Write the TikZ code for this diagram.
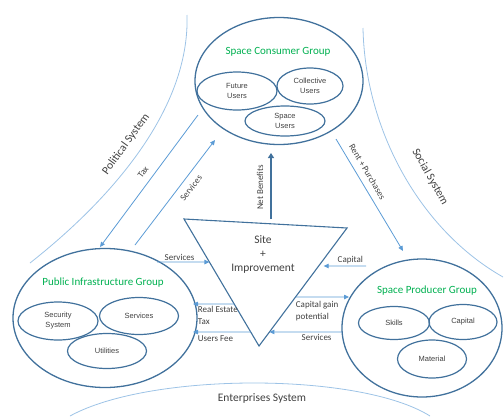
\documentclass[tikz,border=0pt]{standalone}
\usepackage{fontspec}
\setmainfont{Carlito}
\newfontfamily\cellfont{Liberation Sans}
\usetikzlibrary{arrows.meta,calc,shapes.geometric}
\definecolor{groupblue}{HTML}{41719C}
\definecolor{flowblue}{HTML}{5B9BD5}
\definecolor{sysblue}{HTML}{9DC3E6}
\definecolor{titlegreen}{HTML}{00B050}
\definecolor{labelgray}{HTML}{404040}
\begin{document}
\begin{tikzpicture}[x=1pt,y=-1pt]
    \tikzset {
        group/.style = {draw=groupblue, line width=1.3pt, ellipse, inner sep=0pt},
        cell/.style = {draw=groupblue, line width=1.2pt, ellipse, inner sep=0pt,
            align=center, font=\cellfont\fontsize{7.5}{10}\selectfont, text=labelgray},
        title/.style = {text=titlegreen, font=\fontsize{11}{13}\selectfont},
        flow/.style = {draw=flowblue, line width=0.8pt, -{Triangle[length=5pt,width=4.5pt]}},
        flowtext/.style = {text=labelgray, font=\fontsize{9}{12}\selectfont, inner sep=1.5pt},
        system/.style = {draw=sysblue, line width=0.8pt},
        systext/.style = {text=labelgray, font=\fontsize{11.5}{13}\selectfont}
    }
    \useasboundingbox (0,0) rectangle (504,416);

    \draw[system] (187,15) .. controls (190,110) and (110,200) .. (30,263);
    \draw[system] (363,28) .. controls (365,130) and (420,230) .. (503,277);
    \draw[system] (70,416) .. controls (150,372) and (360,372) .. (430,416);
    \node[systext, rotate=54] (polsys) at (126,144) {Political System};
    \node[systext, rotate=-61] (socsys) at (430,177) {Social System};
    \node[systext] (entsys) at (262,398) {Enterprises System};

    \node[group, minimum width=168pt, minimum height=127pt] (consumer) at (279,81) {};
    \node[title] (consumertitle) at (278,52) {Space Consumer Group};
    \node[cell, minimum width=80pt, minimum height=38pt] (future) at (237,91) {Future\\Users};
    \node[cell, minimum width=66pt, minimum height=36pt] (collective) at (310,86) {Collective\\Users};
    \node[cell, minimum width=80pt, minimum height=30pt] (spaceusers) at (285,121) {Space\\Users};

    \node[group, minimum width=184pt, minimum height=139pt] (public) at (105,318) {};
    \node[title] (publictitle) at (103,283) {Public Infrastructure Group};
    \node[cell, minimum width=80pt, minimum height=38pt] (security) at (58,321) {Security\\System};
    \node[cell, minimum width=79pt, minimum height=37pt] (pubservices) at (139,316) {Services};
    \node[cell, minimum width=79pt, minimum height=35pt] (utilities) at (107,351) {Utilities};

    \node[group, minimum width=160pt, minimum height=138pt] (producer) at (422,328) {};
    \node[title] (producertitle) at (427,291) {Space Producer Group};
    \node[cell, minimum width=71pt, minimum height=33pt] (skills) at (394,323) {Skills};
    \node[cell, minimum width=68pt, minimum height=35pt] (capital) at (463,322) {Capital};
    \node[cell, minimum width=69pt, minimum height=38pt] (material) at (432,359) {Material};

    \coordinate (tl) at (184,219);
    \coordinate (tr) at (347,228);
    \coordinate (bt) at (259,346);
    \draw[draw=groupblue, line width=1.1pt, line join=miter] (tl) -- (tr) -- (bt) -- cycle;
    \node[text=labelgray, align=center, font=\fontsize{11.5}{14}\selectfont] (site) at (263,254) {Site\\+\\Improvement};

    \coordinate (netfrom) at (271,219);
    \coordinate (netto) at (271,153);
    \draw[draw=groupblue, line width=2.6pt, -{Triangle[length=5pt,width=6pt]}] (netfrom) -- node[flowtext, sloped, above=5pt, pos=0.48] {Net Benefits} (netto);

    \coordinate (taxfrom) at (198,115);
    \coordinate (taxto) at (100,247);
    \draw[flow] (taxfrom) -- node[flowtext, sloped, above=5pt, pos=0.48] {Tax} (taxto);
    \coordinate (diagfrom) at (135,245);
    \coordinate (diagto) at (215,140);
    \draw[flow] (diagfrom) -- node[flowtext, sloped, below=5pt, pos=0.6] {Services} (diagto);
    \coordinate (rentfrom) at (336,139);
    \coordinate (rentto) at (403,251);
    \draw[flow] (rentfrom) -- node[flowtext, sloped, above=5pt, pos=0.34] {Rent + Purchases} (rentto);

    \coordinate (svcfrom) at (157,262);
    \coordinate (svcto) at ($(tl)!0.339!(bt)$);
    \draw[flow] (svcfrom) -- node[flowtext, above, pos=0.43] {Services} (svcto);
    \coordinate (capfrom) at (366,266);
    \coordinate (capto) at ($(tr)!0.322!(bt)+(5,0)$);
    \draw[flow] (capfrom) -- node[flowtext, above, pos=0.37] {Capital} (capto);
    \coordinate (gainfrom) at ($(tr)!0.585!(bt)$);
    \coordinate (gainto) at (349,297);
    \draw[flow] (gainfrom) -- node[flowtext, below right, align=left, pos=0, inner sep=0pt, yshift=-4pt] {Capital gain\\potential} (gainto);
    \coordinate (prodsvcfrom) at (342,332);
    \coordinate (prodsvcto) at ($(tr)!0.881!(bt)$);
    \draw[flow] (prodsvcfrom) -- node[flowtext, below, pos=0.35] {Services} (prodsvcto);
    \coordinate (estatefrom) at ($(tl)!0.669!(bt)$);
    \coordinate (estateto) at (193,304);
    \draw[flow] (estatefrom) -- node[flowtext, below right, align=left, pos=1, xshift=3pt] {Real Estate\\Tax} (estateto);
    \coordinate (feefrom) at ($(tl)!0.89!(bt)$);
    \coordinate (feeto) at (193,332);
    \draw[flow] (feefrom) -- node[flowtext, below right, pos=1, xshift=3pt, yshift=-2pt] {Users Fee} (feeto);
\end{tikzpicture}
\end{document}
